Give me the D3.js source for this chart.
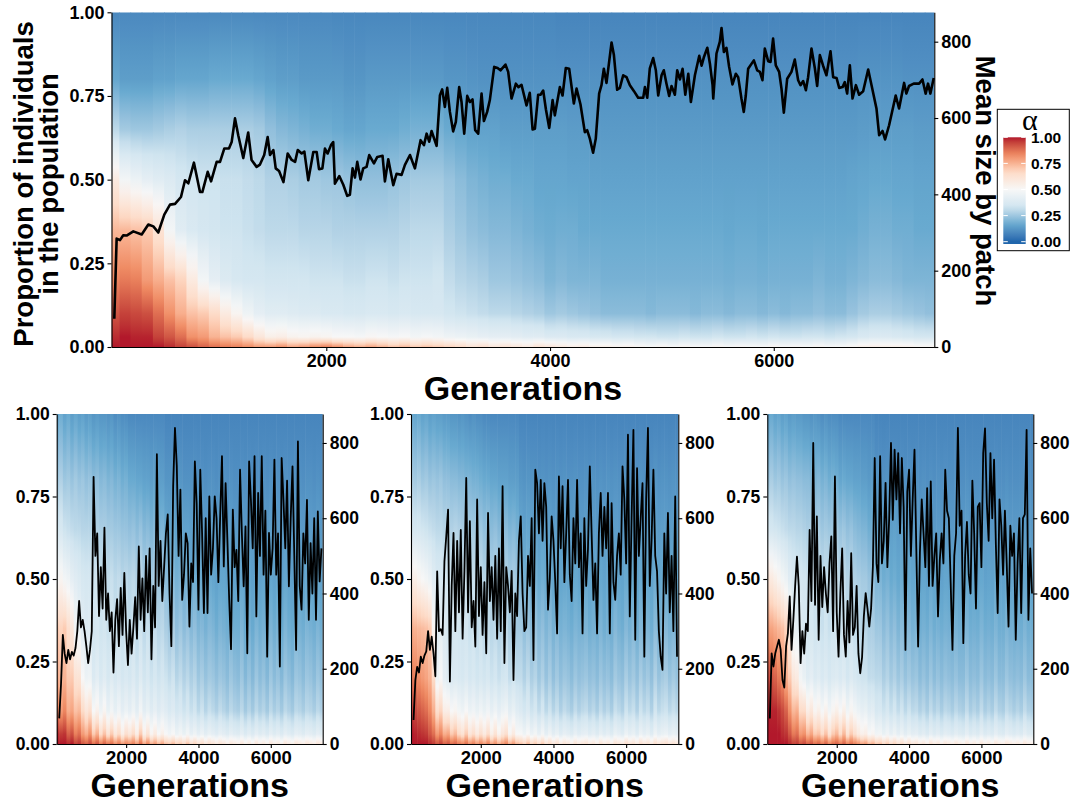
<!DOCTYPE html>
<html><head><meta charset="utf-8">
<script src="https://cdn.jsdelivr.net/npm/d3@7"></script>
<style>
body{margin:0;background:#fff;}
svg text{font-family:"Liberation Sans",Arial,Helvetica,sans-serif;font-weight:bold;fill:#000;}
</style></head><body>
<svg id="chart" width="1076" height="803"></svg>
<script>
// ---------------- DATA ----------------
// generation of each column of the alpha-distribution heat strip
const columnGens = [100,200,300,400,500,600,700,800,900,1000,1100,1200,1300,1400,1500,1600,1700,1800,1900,2000,2100,2200,2300,2400,2500,2600,2700,2800,2900,3000,3100,3200,3300,3400,3500,3600,3700,3800,3900,4000,4100,4200,4300,4400,4500,4600,4700,4800,4900,5000,5100,5200,5300,5400,5500,5600,5700,5800,5900,6000,6100,6200,6300,6400,6500,6600,6700,6800,6900,7000,7100,7200,7300,7400];
// cumulative proportion of the population (from the bottom, highest alpha first)
const propLevels = [0, 0.03, 0.1, 0.2, 0.35, 0.5, 0.65, 0.8, 1];
// alpha value found at each proportion level, per column (one row per level)
const topAlpha = [
 [1.0,1.0,1.0,1.0,1.0,0.98,0.95,0.93,0.9,0.88,0.86,0.85,0.83,0.8,0.8,0.82,0.78,0.8,0.83,0.85,0.82,0.78,0.76,0.78,0.75,0.72,0.74,0.7,0.72,0.7,0.68,0.66,0.62,0.64,0.6,0.62,0.6,0.58,0.62,0.6,0.58,0.56,0.57,0.55,0.55,0.53,0.54,0.52,0.5,0.52,0.5,0.52,0.5,0.5,0.52,0.5,0.51,0.5,0.5,0.52,0.5,0.51,0.5,0.52,0.5,0.5,0.52,0.55,0.56,0.55,0.55,0.54,0.52,0.52],
 [0.98,1.0,0.99,0.99,0.95,0.92,0.88,0.82,0.8,0.75,0.72,0.7,0.66,0.6,0.55,0.56,0.53,0.52,0.53,0.52,0.5,0.5,0.49,0.51,0.5,0.49,0.5,0.48,0.49,0.48,0.46,0.45,0.44,0.43,0.42,0.42,0.41,0.4,0.4,0.38,0.38,0.37,0.37,0.36,0.36,0.35,0.35,0.34,0.34,0.33,0.33,0.34,0.33,0.33,0.34,0.33,0.33,0.34,0.33,0.34,0.33,0.33,0.34,0.34,0.33,0.34,0.35,0.37,0.38,0.38,0.37,0.36,0.35,0.35],
 [0.92,0.95,0.94,0.93,0.88,0.82,0.76,0.72,0.7,0.66,0.58,0.52,0.46,0.42,0.4,0.4,0.39,0.38,0.38,0.37,0.37,0.36,0.36,0.37,0.37,0.36,0.37,0.36,0.36,0.36,0.34,0.33,0.32,0.31,0.3,0.3,0.29,0.28,0.27,0.25,0.26,0.25,0.24,0.23,0.22,0.22,0.22,0.22,0.21,0.22,0.22,0.22,0.21,0.22,0.22,0.21,0.22,0.22,0.21,0.22,0.21,0.22,0.22,0.23,0.22,0.22,0.24,0.26,0.27,0.27,0.26,0.25,0.24,0.23],
 [0.84,0.86,0.85,0.8,0.76,0.72,0.68,0.58,0.48,0.42,0.38,0.36,0.35,0.35,0.34,0.34,0.34,0.34,0.33,0.33,0.33,0.32,0.32,0.33,0.33,0.32,0.33,0.33,0.33,0.34,0.31,0.29,0.28,0.27,0.25,0.25,0.24,0.23,0.22,0.2,0.21,0.2,0.2,0.2,0.19,0.19,0.19,0.19,0.19,0.19,0.19,0.19,0.19,0.19,0.19,0.185,0.19,0.19,0.185,0.19,0.19,0.19,0.19,0.2,0.19,0.19,0.2,0.21,0.22,0.22,0.21,0.2,0.2,0.2],
 [0.74,0.74,0.72,0.7,0.62,0.48,0.4,0.37,0.35,0.34,0.33,0.33,0.32,0.31,0.3,0.3,0.3,0.29,0.29,0.29,0.28,0.28,0.28,0.28,0.28,0.28,0.29,0.3,0.3,0.3,0.27,0.25,0.23,0.22,0.21,0.21,0.2,0.19,0.18,0.175,0.18,0.18,0.17,0.17,0.17,0.17,0.17,0.17,0.17,0.17,0.17,0.17,0.17,0.17,0.17,0.165,0.17,0.17,0.165,0.17,0.17,0.17,0.17,0.17,0.17,0.17,0.17,0.18,0.19,0.19,0.18,0.18,0.17,0.17],
 [0.58,0.48,0.45,0.42,0.4,0.38,0.35,0.34,0.33,0.33,0.32,0.32,0.31,0.3,0.28,0.28,0.27,0.26,0.26,0.25,0.25,0.24,0.23,0.23,0.23,0.24,0.25,0.26,0.26,0.26,0.24,0.22,0.2,0.19,0.18,0.18,0.17,0.17,0.16,0.16,0.16,0.155,0.155,0.15,0.15,0.15,0.15,0.15,0.15,0.15,0.15,0.15,0.15,0.15,0.15,0.15,0.15,0.15,0.15,0.15,0.15,0.15,0.15,0.15,0.15,0.15,0.155,0.16,0.165,0.165,0.16,0.16,0.155,0.155],
 [0.3,0.26,0.25,0.25,0.26,0.27,0.28,0.27,0.27,0.27,0.27,0.27,0.27,0.26,0.23,0.21,0.2,0.19,0.18,0.18,0.17,0.16,0.16,0.17,0.17,0.17,0.18,0.19,0.19,0.19,0.17,0.16,0.15,0.15,0.15,0.14,0.14,0.14,0.14,0.14,0.14,0.135,0.135,0.13,0.13,0.13,0.13,0.13,0.13,0.13,0.13,0.13,0.13,0.13,0.13,0.13,0.13,0.13,0.13,0.13,0.13,0.13,0.13,0.13,0.13,0.13,0.13,0.135,0.14,0.14,0.14,0.14,0.135,0.135],
 [0.16,0.14,0.14,0.14,0.15,0.15,0.16,0.16,0.16,0.17,0.17,0.17,0.17,0.16,0.15,0.14,0.14,0.13,0.13,0.13,0.13,0.12,0.12,0.13,0.13,0.13,0.13,0.13,0.13,0.13,0.12,0.12,0.115,0.11,0.11,0.11,0.11,0.11,0.11,0.11,0.11,0.11,0.11,0.11,0.11,0.11,0.11,0.11,0.11,0.11,0.11,0.11,0.11,0.11,0.11,0.11,0.11,0.11,0.11,0.11,0.11,0.11,0.11,0.11,0.11,0.11,0.11,0.115,0.115,0.115,0.115,0.11,0.11,0.11],
 [0.09,0.09,0.09,0.09,0.09,0.09,0.09,0.09,0.09,0.09,0.09,0.09,0.09,0.09,0.09,0.09,0.09,0.09,0.09,0.09,0.085,0.085,0.085,0.085,0.085,0.085,0.085,0.085,0.085,0.085,0.085,0.085,0.085,0.085,0.085,0.085,0.085,0.085,0.085,0.085,0.08,0.08,0.08,0.08,0.08,0.08,0.08,0.08,0.08,0.08,0.08,0.08,0.08,0.08,0.08,0.08,0.08,0.08,0.08,0.08,0.08,0.08,0.08,0.08,0.08,0.08,0.08,0.08,0.08,0.08,0.08,0.08,0.08,0.08]
];
const sim1Alpha = [
 [1.0,1.0,1.0,0.98,1.0,0.95,0.97,0.92,0.9,0.94,0.88,0.92,0.85,0.9,0.86,0.88,0.82,0.86,0.8,0.84,0.82,0.85,0.8,0.88,0.78,0.84,0.76,0.8,0.74,0.78,0.72,0.7,0.74,0.68,0.7,0.66,0.72,0.64,0.68,0.62,0.66,0.6,0.64,0.62,0.58,0.62,0.6,0.56,0.6,0.58,0.56,0.6,0.55,0.58,0.54,0.6,0.56,0.58,0.55,0.6,0.56,0.58,0.54,0.6,0.57,0.55,0.6,0.58,0.56,0.6,0.58,0.56,0.6,0.58],
 [0.98,0.96,0.97,0.9,0.93,0.85,0.88,0.8,0.76,0.82,0.7,0.76,0.65,0.72,0.62,0.7,0.6,0.66,0.56,0.64,0.6,0.66,0.56,0.7,0.55,0.62,0.52,0.58,0.5,0.55,0.5,0.47,0.5,0.45,0.48,0.44,0.48,0.43,0.46,0.42,0.45,0.41,0.44,0.42,0.4,0.43,0.41,0.39,0.42,0.4,0.39,0.42,0.38,0.41,0.38,0.42,0.39,0.41,0.38,0.42,0.39,0.41,0.38,0.42,0.4,0.38,0.42,0.41,0.39,0.42,0.41,0.39,0.42,0.4],
 [0.85,0.8,0.84,0.76,0.78,0.72,0.74,0.66,0.6,0.64,0.5,0.54,0.46,0.52,0.44,0.48,0.43,0.47,0.42,0.45,0.42,0.46,0.41,0.48,0.41,0.44,0.4,0.43,0.39,0.42,0.4,0.37,0.39,0.35,0.37,0.33,0.36,0.32,0.34,0.3,0.33,0.29,0.32,0.3,0.28,0.31,0.29,0.27,0.3,0.28,0.27,0.3,0.26,0.29,0.26,0.3,0.27,0.29,0.26,0.3,0.27,0.29,0.26,0.3,0.28,0.26,0.3,0.29,0.27,0.3,0.29,0.27,0.3,0.28],
 [0.76,0.74,0.75,0.7,0.7,0.62,0.62,0.5,0.45,0.46,0.38,0.41,0.37,0.4,0.36,0.39,0.36,0.38,0.35,0.37,0.35,0.38,0.34,0.39,0.34,0.37,0.33,0.36,0.33,0.35,0.33,0.31,0.33,0.29,0.31,0.28,0.3,0.27,0.29,0.25,0.27,0.24,0.26,0.25,0.23,0.25,0.24,0.22,0.25,0.23,0.22,0.25,0.21,0.24,0.21,0.25,0.22,0.24,0.21,0.25,0.22,0.24,0.21,0.25,0.23,0.21,0.25,0.24,0.22,0.25,0.24,0.22,0.25,0.23],
 [0.7,0.68,0.7,0.64,0.6,0.48,0.44,0.4,0.38,0.39,0.34,0.35,0.33,0.34,0.32,0.34,0.32,0.33,0.31,0.33,0.31,0.33,0.3,0.33,0.3,0.32,0.29,0.31,0.29,0.3,0.27,0.25,0.27,0.23,0.25,0.22,0.24,0.21,0.23,0.2,0.21,0.19,0.21,0.2,0.18,0.2,0.19,0.18,0.2,0.18,0.18,0.2,0.17,0.19,0.17,0.2,0.18,0.19,0.17,0.2,0.18,0.19,0.17,0.2,0.18,0.17,0.2,0.19,0.18,0.2,0.19,0.18,0.2,0.18],
 [0.5,0.52,0.48,0.46,0.42,0.4,0.38,0.36,0.35,0.35,0.33,0.34,0.32,0.33,0.31,0.32,0.3,0.31,0.29,0.3,0.29,0.3,0.28,0.3,0.27,0.28,0.26,0.27,0.25,0.26,0.22,0.2,0.21,0.19,0.2,0.18,0.19,0.17,0.18,0.16,0.17,0.16,0.17,0.16,0.15,0.16,0.16,0.15,0.16,0.15,0.15,0.16,0.145,0.155,0.145,0.16,0.15,0.155,0.145,0.16,0.15,0.155,0.145,0.16,0.15,0.145,0.16,0.155,0.15,0.16,0.155,0.15,0.16,0.15],
 [0.34,0.36,0.33,0.32,0.31,0.3,0.3,0.29,0.29,0.29,0.28,0.28,0.27,0.27,0.26,0.26,0.25,0.25,0.24,0.24,0.23,0.24,0.22,0.24,0.21,0.22,0.2,0.21,0.19,0.2,0.17,0.16,0.17,0.15,0.16,0.15,0.15,0.14,0.15,0.14,0.14,0.13,0.14,0.135,0.13,0.14,0.135,0.13,0.14,0.13,0.13,0.14,0.13,0.135,0.13,0.14,0.13,0.135,0.13,0.14,0.13,0.135,0.13,0.14,0.13,0.13,0.14,0.135,0.13,0.14,0.135,0.13,0.14,0.13],
 [0.26,0.28,0.25,0.26,0.24,0.26,0.24,0.25,0.23,0.24,0.22,0.23,0.21,0.22,0.2,0.21,0.19,0.2,0.18,0.19,0.17,0.17,0.16,0.16,0.15,0.15,0.14,0.15,0.14,0.14,0.12,0.12,0.12,0.11,0.12,0.11,0.11,0.11,0.115,0.11,0.11,0.105,0.11,0.11,0.105,0.11,0.11,0.105,0.11,0.105,0.105,0.11,0.105,0.11,0.105,0.11,0.105,0.11,0.105,0.11,0.105,0.11,0.105,0.11,0.105,0.105,0.11,0.11,0.105,0.11,0.11,0.105,0.11,0.105],
 [0.16,0.18,0.15,0.17,0.14,0.16,0.14,0.15,0.13,0.14,0.12,0.13,0.12,0.12,0.11,0.12,0.1,0.11,0.1,0.1,0.09,0.09,0.09,0.09,0.09,0.09,0.09,0.09,0.09,0.09,0.08,0.08,0.08,0.08,0.08,0.08,0.08,0.08,0.08,0.08,0.08,0.08,0.08,0.08,0.08,0.08,0.08,0.08,0.08,0.08,0.08,0.08,0.08,0.08,0.08,0.08,0.08,0.08,0.08,0.08,0.08,0.08,0.08,0.08,0.08,0.08,0.08,0.08,0.08,0.08,0.08,0.08,0.08,0.08]
];
const sim2Alpha = [
 [1.0,1.0,1.0,1.0,1.0,0.98,0.96,0.92,0.95,0.9,0.92,0.88,0.9,0.86,0.84,0.88,0.82,0.85,0.8,0.84,0.8,0.85,0.78,0.82,0.76,0.8,0.84,0.76,0.8,0.74,0.72,0.68,0.74,0.66,0.7,0.64,0.7,0.62,0.66,0.6,0.64,0.58,0.62,0.6,0.56,0.62,0.58,0.6,0.62,0.58,0.6,0.56,0.62,0.58,0.6,0.56,0.62,0.6,0.58,0.64,0.6,0.62,0.58,0.64,0.6,0.62,0.58,0.64,0.6,0.62,0.64,0.6,0.62,0.6],
 [1.0,0.99,0.98,0.97,0.96,0.92,0.88,0.8,0.84,0.76,0.78,0.7,0.74,0.66,0.62,0.7,0.6,0.65,0.58,0.64,0.58,0.65,0.55,0.62,0.53,0.6,0.64,0.52,0.58,0.5,0.5,0.46,0.5,0.45,0.48,0.43,0.48,0.42,0.46,0.41,0.44,0.4,0.43,0.41,0.39,0.43,0.4,0.42,0.43,0.4,0.42,0.39,0.43,0.4,0.42,0.39,0.44,0.42,0.4,0.45,0.42,0.44,0.4,0.45,0.42,0.44,0.4,0.46,0.42,0.44,0.45,0.42,0.44,0.42],
 [0.96,0.94,0.92,0.9,0.88,0.84,0.76,0.64,0.68,0.56,0.56,0.5,0.52,0.48,0.46,0.5,0.45,0.47,0.44,0.47,0.44,0.47,0.43,0.46,0.42,0.45,0.47,0.41,0.44,0.4,0.38,0.35,0.38,0.33,0.36,0.31,0.35,0.3,0.33,0.29,0.32,0.28,0.31,0.29,0.27,0.31,0.28,0.3,0.31,0.28,0.3,0.27,0.31,0.28,0.3,0.27,0.32,0.3,0.28,0.33,0.3,0.32,0.28,0.33,0.3,0.32,0.28,0.34,0.3,0.32,0.33,0.3,0.32,0.3],
 [0.86,0.85,0.82,0.8,0.78,0.75,0.66,0.46,0.5,0.42,0.39,0.37,0.38,0.37,0.36,0.38,0.35,0.37,0.34,0.36,0.34,0.36,0.33,0.35,0.32,0.34,0.35,0.31,0.33,0.31,0.31,0.28,0.31,0.27,0.29,0.25,0.28,0.24,0.27,0.23,0.26,0.23,0.25,0.24,0.22,0.25,0.23,0.24,0.25,0.23,0.24,0.22,0.25,0.23,0.24,0.22,0.26,0.24,0.23,0.27,0.24,0.26,0.23,0.27,0.24,0.26,0.23,0.28,0.24,0.26,0.27,0.24,0.26,0.24],
 [0.76,0.75,0.74,0.73,0.72,0.7,0.52,0.4,0.42,0.38,0.35,0.34,0.35,0.34,0.33,0.34,0.32,0.33,0.31,0.32,0.3,0.31,0.29,0.3,0.28,0.29,0.3,0.27,0.28,0.26,0.26,0.23,0.25,0.22,0.24,0.21,0.23,0.2,0.22,0.19,0.21,0.19,0.2,0.19,0.18,0.2,0.19,0.19,0.2,0.18,0.19,0.18,0.2,0.18,0.19,0.18,0.21,0.19,0.18,0.21,0.19,0.21,0.18,0.21,0.19,0.2,0.18,0.22,0.19,0.21,0.21,0.19,0.2,0.19],
 [0.56,0.55,0.52,0.5,0.48,0.45,0.4,0.37,0.37,0.35,0.35,0.34,0.35,0.34,0.33,0.33,0.32,0.32,0.31,0.31,0.29,0.3,0.28,0.29,0.27,0.28,0.28,0.26,0.27,0.25,0.21,0.19,0.2,0.18,0.19,0.17,0.18,0.17,0.18,0.16,0.17,0.16,0.165,0.16,0.15,0.165,0.155,0.16,0.165,0.155,0.16,0.15,0.165,0.155,0.16,0.15,0.17,0.16,0.155,0.17,0.16,0.17,0.155,0.17,0.16,0.165,0.155,0.175,0.16,0.17,0.17,0.16,0.165,0.16],
 [0.36,0.35,0.35,0.34,0.33,0.32,0.31,0.3,0.3,0.29,0.29,0.28,0.29,0.28,0.27,0.27,0.26,0.26,0.25,0.25,0.23,0.24,0.22,0.23,0.21,0.22,0.22,0.2,0.21,0.19,0.16,0.15,0.16,0.15,0.15,0.14,0.15,0.14,0.145,0.135,0.14,0.135,0.14,0.135,0.13,0.14,0.135,0.135,0.14,0.13,0.135,0.13,0.14,0.135,0.135,0.13,0.14,0.135,0.13,0.14,0.135,0.14,0.13,0.14,0.135,0.14,0.13,0.145,0.135,0.14,0.14,0.135,0.14,0.135],
 [0.27,0.26,0.27,0.25,0.26,0.24,0.25,0.24,0.25,0.23,0.23,0.22,0.22,0.21,0.21,0.2,0.2,0.19,0.19,0.18,0.17,0.17,0.16,0.16,0.15,0.15,0.15,0.14,0.14,0.14,0.12,0.115,0.12,0.115,0.115,0.11,0.115,0.11,0.115,0.11,0.115,0.11,0.115,0.11,0.11,0.115,0.11,0.11,0.115,0.11,0.115,0.11,0.115,0.11,0.115,0.11,0.115,0.11,0.11,0.115,0.11,0.115,0.11,0.115,0.11,0.115,0.11,0.12,0.11,0.115,0.115,0.11,0.115,0.11],
 [0.17,0.16,0.17,0.15,0.16,0.14,0.15,0.14,0.14,0.13,0.13,0.12,0.12,0.11,0.12,0.11,0.1,0.11,0.1,0.1,0.09,0.09,0.09,0.09,0.09,0.09,0.09,0.09,0.09,0.09,0.08,0.08,0.08,0.08,0.08,0.08,0.08,0.08,0.08,0.08,0.08,0.08,0.08,0.08,0.08,0.08,0.08,0.08,0.08,0.08,0.08,0.08,0.08,0.08,0.08,0.08,0.08,0.08,0.08,0.08,0.08,0.08,0.08,0.08,0.08,0.08,0.08,0.08,0.08,0.08,0.08,0.08,0.08,0.08]
];
const sim3Alpha = [
 [1.0,1.0,1.0,1.0,1.0,1.0,0.98,0.95,0.96,0.92,0.94,0.9,0.92,0.88,0.9,0.86,0.9,0.84,0.88,0.9,0.86,0.9,0.84,0.88,0.85,0.82,0.78,0.8,0.74,0.76,0.7,0.72,0.66,0.7,0.64,0.68,0.62,0.66,0.6,0.64,0.6,0.62,0.58,0.6,0.56,0.62,0.58,0.6,0.56,0.6,0.58,0.56,0.6,0.57,0.55,0.6,0.56,0.58,0.55,0.6,0.56,0.58,0.55,0.6,0.57,0.56,0.6,0.58,0.56,0.58,0.56,0.6,0.57,0.56],
 [1.0,1.0,1.0,1.0,0.98,0.97,0.92,0.86,0.88,0.8,0.82,0.74,0.78,0.7,0.72,0.66,0.72,0.62,0.7,0.74,0.66,0.74,0.62,0.7,0.64,0.58,0.54,0.56,0.5,0.52,0.47,0.48,0.44,0.47,0.43,0.46,0.42,0.45,0.41,0.44,0.41,0.42,0.39,0.41,0.38,0.42,0.39,0.41,0.38,0.41,0.4,0.38,0.41,0.39,0.38,0.42,0.38,0.4,0.38,0.42,0.38,0.4,0.38,0.42,0.39,0.38,0.42,0.4,0.38,0.4,0.38,0.42,0.39,0.38],
 [1.0,0.99,0.99,0.97,0.94,0.9,0.82,0.74,0.76,0.66,0.66,0.56,0.6,0.52,0.55,0.49,0.54,0.47,0.52,0.55,0.5,0.55,0.47,0.52,0.48,0.45,0.43,0.44,0.4,0.41,0.36,0.37,0.33,0.36,0.32,0.35,0.31,0.34,0.3,0.33,0.3,0.31,0.28,0.3,0.27,0.31,0.28,0.3,0.27,0.3,0.29,0.27,0.3,0.28,0.27,0.31,0.27,0.29,0.27,0.31,0.27,0.29,0.27,0.31,0.28,0.27,0.31,0.29,0.27,0.29,0.27,0.31,0.28,0.27],
 [0.94,0.92,0.9,0.86,0.82,0.76,0.7,0.6,0.58,0.48,0.44,0.4,0.42,0.38,0.4,0.37,0.39,0.36,0.38,0.39,0.37,0.39,0.35,0.38,0.36,0.34,0.33,0.33,0.31,0.31,0.3,0.3,0.27,0.29,0.26,0.28,0.25,0.27,0.24,0.26,0.24,0.25,0.22,0.24,0.22,0.25,0.22,0.24,0.22,0.24,0.23,0.22,0.24,0.22,0.22,0.25,0.22,0.23,0.22,0.25,0.22,0.23,0.22,0.25,0.22,0.22,0.25,0.23,0.22,0.23,0.22,0.25,0.22,0.22],
 [0.8,0.78,0.76,0.74,0.72,0.68,0.56,0.44,0.42,0.39,0.36,0.34,0.35,0.33,0.34,0.32,0.34,0.32,0.33,0.34,0.32,0.34,0.31,0.33,0.31,0.3,0.29,0.29,0.27,0.27,0.25,0.25,0.22,0.24,0.21,0.23,0.2,0.22,0.19,0.21,0.19,0.2,0.18,0.19,0.18,0.2,0.18,0.19,0.18,0.19,0.185,0.18,0.19,0.18,0.18,0.2,0.18,0.185,0.18,0.2,0.18,0.185,0.18,0.2,0.18,0.18,0.2,0.185,0.18,0.185,0.18,0.2,0.18,0.18],
 [0.62,0.58,0.55,0.52,0.48,0.45,0.4,0.37,0.36,0.35,0.34,0.33,0.34,0.32,0.33,0.31,0.32,0.31,0.31,0.32,0.3,0.31,0.29,0.3,0.28,0.27,0.26,0.26,0.24,0.24,0.2,0.2,0.18,0.19,0.17,0.18,0.165,0.175,0.16,0.17,0.16,0.165,0.155,0.16,0.15,0.165,0.155,0.16,0.15,0.16,0.155,0.15,0.16,0.155,0.15,0.165,0.15,0.155,0.15,0.165,0.15,0.155,0.15,0.165,0.155,0.15,0.165,0.155,0.15,0.155,0.15,0.165,0.155,0.15],
 [0.36,0.35,0.34,0.33,0.32,0.31,0.3,0.3,0.29,0.29,0.28,0.27,0.28,0.26,0.27,0.25,0.26,0.25,0.25,0.26,0.24,0.25,0.23,0.24,0.22,0.21,0.2,0.2,0.18,0.18,0.16,0.16,0.15,0.155,0.145,0.15,0.14,0.145,0.135,0.14,0.135,0.14,0.13,0.135,0.13,0.14,0.13,0.135,0.13,0.135,0.13,0.13,0.135,0.13,0.13,0.14,0.13,0.13,0.13,0.14,0.13,0.13,0.13,0.14,0.13,0.13,0.14,0.13,0.13,0.13,0.13,0.14,0.13,0.13],
 [0.25,0.27,0.25,0.26,0.24,0.25,0.23,0.24,0.23,0.23,0.22,0.22,0.21,0.2,0.21,0.19,0.2,0.18,0.19,0.18,0.16,0.17,0.16,0.16,0.15,0.15,0.14,0.14,0.13,0.13,0.115,0.115,0.11,0.115,0.11,0.11,0.105,0.11,0.105,0.11,0.105,0.11,0.105,0.11,0.105,0.11,0.105,0.11,0.105,0.11,0.105,0.105,0.11,0.105,0.105,0.11,0.105,0.105,0.105,0.11,0.105,0.105,0.105,0.11,0.105,0.105,0.11,0.105,0.105,0.105,0.105,0.11,0.105,0.105],
 [0.15,0.17,0.15,0.16,0.14,0.15,0.13,0.14,0.13,0.13,0.12,0.12,0.11,0.12,0.11,0.1,0.11,0.1,0.1,0.1,0.09,0.09,0.09,0.09,0.09,0.09,0.09,0.09,0.09,0.09,0.08,0.08,0.08,0.08,0.08,0.08,0.08,0.08,0.08,0.08,0.08,0.08,0.08,0.08,0.08,0.08,0.08,0.08,0.08,0.08,0.08,0.08,0.08,0.08,0.08,0.08,0.08,0.08,0.08,0.08,0.08,0.08,0.08,0.08,0.08,0.08,0.08,0.08,0.08,0.08,0.08,0.08,0.08,0.08]
];

// mean size by patch (top panel)
const topLineGen = [105,126,156,185,215,275,350,409,454,498,552,603,648,701,737,767,817,871,892,940,970,1020,1050,1088,1130,1154,1184,1213,1258,1302,1332,1377,1407,1445,1476,1497,1527,1548,1578,1617,1655,1691,1721,1745,1780,1804,1839,1884,1914,1935,1965,1988,2012,2042,2062,2077,2116,2152,2187,2211,2235,2256,2277,2306,2330,2360,2384,2426,2456,2503,2524,2554,2599,2628,2673,2703,2748,2792,2843,2873,2897,2920,2941,2986,3016,3036,3060,3081,3105,3134,3158,3188,3209,3233,3260,3283,3307,3331,3358,3388,3409,3438,3462,3501,3531,3557,3602,3626,3656,3695,3718,3745,3790,3819,3844,3865,3894,3915,3939,3963,3993,4023,4043,4088,4112,4141,4171,4213,4237,4272,4311,4332,4356,4385,4409,4439,4460,4481,4505,4550,4571,4600,4624,4654,4684,4714,4749,4788,4833,4848,4869,4892,4922,4946,4967,4997,5017,5041,5065,5086,5116,5137,5161,5185,5209,5236,5259,5295,5334,5355,5376,5406,5429,5453,5459,5488,5518,5533,5554,5577,5601,5631,5661,5682,5711,5732,5750,5771,5822,5852,5876,5899,5920,5950,5971,5994,6018,6048,6069,6090,6120,6158,6188,6218,6239,6263,6287,6307,6337,6367,6388,6412,6441,6471,6507,6531,6561,6585,6615,6635,6656,6680,6704,6734,6763,6799,6844,6874,6918,6942,6972,6995,7031,7090,7120,7165,7185,7209,7251,7299,7329,7358,7379,7400,7430];
const topLineSize = [74,284,280,293,292,303,295,321,316,300,347,373,375,393,437,429,483,406,406,459,434,485,485,520,520,537,599,555,495,562,490,472,478,503,550,503,516,468,461,432,507,490,485,516,507,512,437,511,511,466,468,520,507,529,537,428,448,425,396,399,468,444,485,439,468,472,503,481,498,501,434,492,424,454,451,477,503,468,542,529,559,538,566,527,660,675,629,679,616,565,590,681,642,559,658,642,649,568,559,664,592,616,647,734,731,725,740,721,651,690,681,687,633,666,570,572,661,661,672,623,574,647,607,681,659,731,729,638,677,636,563,568,546,509,546,664,686,729,692,798,765,674,679,712,707,686,671,653,653,681,653,730,757,725,659,712,725,690,658,684,661,725,701,729,661,716,642,712,763,737,760,784,743,686,651,769,800,836,773,784,734,688,716,707,651,616,659,729,751,725,721,699,782,749,747,808,738,721,677,614,703,721,753,699,686,697,673,707,782,731,684,765,737,712,775,707,705,679,681,694,664,738,651,686,661,670,727,686,625,555,566,544,581,659,625,692,664,684,690,690,701,664,690,664,705];

// mean size by patch, three replicate simulations (bottom panels)
const simLineGen = [150,200,250,300,350,400,450,500,550,600,650,700,750,800,850,900,950,1000,1050,1100,1150,1200,1250,1300,1350,1400,1450,1500,1550,1600,1650,1700,1750,1800,1850,1900,1950,2000,2050,2100,2150,2200,2250,2300,2350,2400,2450,2500,2550,2600,2650,2700,2750,2800,2850,2900,2950,3000,3050,3100,3150,3200,3250,3300,3350,3400,3450,3500,3550,3600,3650,3700,3750,3800,3850,3900,3950,4000,4050,4100,4150,4200,4250,4300,4350,4400,4450,4500,4550,4600,4650,4700,4750,4800,4850,4900,4950,5000,5050,5100,5150,5200,5250,5300,5350,5400,5450,5500,5550,5600,5650,5700,5750,5800,5850,5900,5950,6000,6050,6100,6150,6200,6250,6300,6350,6400,6450,6500,6550,6600,6650,6700,6750,6800,6850,6900,6950,7000,7050,7100,7150,7200,7250,7300,7350,7400];
const sim1Size = [68,160,290,240,215,250,225,245,235,255,300,380,310,330,300,260,215,250,300,710,500,560,340,470,360,575,330,400,300,350,190,330,385,260,415,290,455,300,210,330,240,310,390,280,525,330,440,300,500,350,520,225,420,310,770,420,540,380,470,560,610,400,260,685,840,740,500,676,383,450,560,534,312,480,430,751,640,357,729,560,348,600,348,658,450,520,658,600,430,605,765,472,693,540,383,252,623,470,516,380,729,560,419,578,241,751,649,520,765,339,667,500,765,450,620,232,561,450,520,756,450,560,206,760,649,520,700,419,600,738,500,250,804,420,357,560,480,649,330,534,400,600,330,618,432,520];
const sim2Size = [64,170,205,190,232,215,235,246,300,250,285,240,180,459,300,305,290,485,552,623,166,420,561,300,540,350,569,280,460,707,350,592,310,380,259,650,340,470,290,430,241,614,380,470,330,500,280,520,300,685,215,470,420,350,460,170,400,340,540,605,400,300,310,500,420,600,223,729,693,560,702,540,693,630,357,440,605,540,430,294,711,520,685,430,560,702,450,380,600,480,702,470,560,294,600,420,520,738,560,383,480,294,560,667,500,630,520,667,294,640,430,383,500,560,450,738,650,480,822,339,600,835,277,733,500,600,693,232,650,840,420,543,729,500,459,300,232,197,560,400,614,350,500,300,658,232];
const sim3Size = [68,241,206,241,259,277,250,170,150,260,294,392,250,330,420,498,420,215,300,240,320,300,569,380,800,370,605,277,500,364,470,400,350,480,552,300,711,350,232,400,520,290,232,380,270,507,290,310,420,240,188,230,340,401,360,312,360,472,760,480,430,765,480,540,694,470,600,800,596,782,650,773,560,760,630,250,670,729,500,650,782,520,259,510,650,560,470,680,420,698,420,500,560,339,490,560,480,729,620,600,430,250,500,560,840,580,620,268,500,590,450,400,700,560,360,630,640,470,773,839,640,540,773,600,756,530,348,650,580,450,620,480,312,580,500,560,277,480,600,348,600,610,835,330,520,400];

// axes
const propTicks = [0, 0.25, 0.5, 0.75, 1];
const genTicks = [2000, 4000, 6000];
const sizeTicks = [0, 200, 400, 600, 800];
const legendTicks = [0, 0.25, 0.5, 0.75, 1];
const genDomain = [80, 7435];
const sizeDomain = [0, 877];

// ---------------- DRAWING ----------------
const svg = d3.select("#chart");
const defs = svg.append("defs");
const FONT = '"Liberation Sans", Arial, Helvetica, sans-serif';

const alphaColor = d3.scaleLinear()
  .domain([0, 1/6, 2/6, 3/6, 4/6, 5/6, 1])
  .range(["#2166AC","#67A9CF","#D1E5F0","#F7F7F7","#FDDBC7","#EF8A62","#B2182B"])
  .interpolate(d3.interpolateLab)
  .clamp(true);

function stopsFor(alphas) {
  const out = [];
  for (let k = 0; k < propLevels.length - 1; k++) {
    for (let s = 0; s < 4; s++) {
      const t = s / 4;
      out.push({p: propLevels[k] + (propLevels[k+1] - propLevels[k]) * t,
                a: alphas[k] + (alphas[k+1] - alphas[k]) * t});
    }
  }
  out.push({p: propLevels[propLevels.length-1], a: alphas[alphas.length-1]});
  return out;
}

function styleAxis(sel, fs) {
  sel.attr("font-family", FONT).attr("font-weight", "bold").attr("font-size", fs);
  sel.selectAll(".domain").attr("stroke", "#000").attr("stroke-width", 1.1);
  sel.selectAll(".tick line").attr("stroke", "#000").attr("stroke-width", 1.1);
  sel.selectAll(".tick text").attr("fill", "#000");
}

function drawPanel(cfg) {
  const g = svg.append("g");
  const x = d3.scaleLinear().domain(genDomain).range([cfg.left, cfg.right]);
  const y = d3.scaleLinear().domain([0, 1]).range([cfg.bottom, cfg.top]);
  const ys = d3.scaleLinear().domain(sizeDomain).range([cfg.bottom, cfg.top]);
  const n = columnGens.length;

  defs.append("clipPath").attr("id", cfg.id + "clip")
    .append("rect").attr("x", cfg.left).attr("y", cfg.top)
    .attr("width", cfg.right - cfg.left).attr("height", cfg.bottom - cfg.top);

  const cols = columnGens.map((gen, i) => ({
    i,
    g0: i === 0 ? genDomain[0] : (columnGens[i-1] + gen) / 2,
    g1: i === n - 1 ? genDomain[1] : (gen + columnGens[i+1]) / 2,
    alphas: cfg.alpha.map(row => row[i])
  }));

  const grads = defs.selectAll(null).data(cols).join("linearGradient")
    .attr("id", d => cfg.id + "c" + d.i)
    .attr("gradientUnits", "userSpaceOnUse")
    .attr("x1", 0).attr("x2", 0)
    .attr("y1", y(0)).attr("y2", y(1));
  grads.selectAll("stop").data(d => stopsFor(d.alphas)).join("stop")
    .attr("offset", s => s.p)
    .attr("stop-color", s => alphaColor(s.a));

  g.append("g").attr("clip-path", `url(#${cfg.id}clip)`)
    .selectAll("rect").data(cols).join("rect")
    .attr("x", d => x(d.g0))
    .attr("width", d => x(d.g1) - x(d.g0) + 0.6)
    .attr("y", y(1)).attr("height", y(0) - y(1))
    .attr("fill", d => `url(#${cfg.id}c${d.i})`);

  const line = d3.line().x(d => x(d[0])).y(d => ys(d[1]));
  g.append("path").datum(d3.zip(cfg.lineGen, cfg.lineSize))
    .attr("d", line).attr("fill", "none").attr("stroke", "#000")
    .attr("stroke-width", cfg.lw).attr("stroke-linejoin", "round");

  const ax = g.append("g").attr("transform", `translate(${cfg.left},0)`)
    .call(d3.axisLeft(y).tickValues(propTicks).tickFormat(d3.format(".2f")).tickSize(4).tickSizeOuter(0).tickPadding(3));
  styleAxis(ax, cfg.fsY);
  const bx = g.append("g").attr("transform", `translate(0,${cfg.bottom})`)
    .call(d3.axisBottom(x).tickValues(genTicks).tickFormat(d3.format("d")).tickSize(4).tickSizeOuter(0).tickPadding(3));
  styleAxis(bx, cfg.fsX);
  const rx = g.append("g").attr("transform", `translate(${cfg.right},0)`)
    .call(d3.axisRight(ys).tickValues(sizeTicks).tickFormat(d3.format("d")).tickSize(4).tickSizeOuter(0).tickPadding(3));
  styleAxis(rx, cfg.fsY);

  g.append("text").attr("x", (cfg.left + cfg.right) / 2).attr("y", cfg.titleY)
    .attr("text-anchor", "middle").attr("font-size", 34).text("Generations");
}

const panels = [
  {id: "top", alpha: topAlpha, lineGen: topLineGen, lineSize: topLineSize,
   left: 111.5, right: 934.3, top: 12.3, bottom: 347, lw: 2.6, fsY: 18, fsX: 18, titleY: 400},
  {id: "s1", alpha: sim1Alpha, lineGen: simLineGen, lineSize: sim1Size,
   left: 56.7, right: 322.7, top: 414, bottom: 744, lw: 1.8, fsY: 17.5, fsX: 18.5, titleY: 797},
  {id: "s2", alpha: sim2Alpha, lineGen: simLineGen, lineSize: sim2Size,
   left: 411, right: 678.3, top: 414, bottom: 744, lw: 1.8, fsY: 17.5, fsX: 18.5, titleY: 797},
  {id: "s3", alpha: sim3Alpha, lineGen: simLineGen, lineSize: sim3Size,
   left: 767.3, right: 1033.3, top: 414, bottom: 744, lw: 1.8, fsY: 17.5, fsX: 18.5, titleY: 797}
];
panels.forEach(drawPanel);

// axis titles of the top panel
const yTitle = svg.append("g").attr("font-size", 27.5);
yTitle.append("text").attr("transform", "translate(33,184) rotate(-90)")
  .attr("text-anchor", "middle").text("Proportion of individuals");
yTitle.append("text").attr("transform", "translate(58,184) rotate(-90)")
  .attr("text-anchor", "middle").text("in the population");
svg.append("text").attr("transform", "translate(976,181) rotate(90)")
  .attr("text-anchor", "middle").attr("font-size", 27.5).text("Mean size by patch");

// legend
const lg = svg.append("g");
lg.append("rect").attr("x", 997.3).attr("y", 109.3).attr("width", 72).attr("height", 141.4)
  .attr("fill", "#fff").attr("stroke", "#000").attr("stroke-width", 1);
const ly = d3.scaleLinear().domain([0, 1]).range([241.7, 137.3]);
const lgGrad = defs.append("linearGradient").attr("id", "legendGrad")
  .attr("gradientUnits", "userSpaceOnUse")
  .attr("x1", 0).attr("x2", 0).attr("y1", 244).attr("y2", 137.3);
lgGrad.selectAll("stop").data(d3.range(0, 1.0001, 0.05)).join("stop")
  .attr("offset", d => (ly(d) - 244) / (137.3 - 244))
  .attr("stop-color", d => alphaColor(d));
lg.append("rect").attr("x", 1003.3).attr("y", 137.3).attr("width", 22.4).attr("height", 244 - 137.3)
  .attr("fill", "url(#legendGrad)");
legendTicks.forEach(v => {
  lg.append("line").attr("x1", 1003.3).attr("x2", 1007.8).attr("y1", ly(v)).attr("y2", ly(v))
    .attr("stroke", "#fff").attr("stroke-width", 1);
  lg.append("line").attr("x1", 1021.2).attr("x2", 1025.7).attr("y1", ly(v)).attr("y2", ly(v))
    .attr("stroke", "#fff").attr("stroke-width", 1);
});
lg.selectAll("text.lab").data(legendTicks).join("text").attr("class", "lab")
  .attr("x", 1031).attr("y", d => ly(d)).attr("dy", "0.36em")
  .attr("font-size", 15.5).text(d => d3.format(".2f")(d));
lg.append("text").attr("x", 1022).attr("y", 130)
  .style("font-family", '"Liberation Serif","DejaVu Serif",serif').style("font-weight", "normal")
  .attr("font-size", 30).text("α");
</script></body></html>
